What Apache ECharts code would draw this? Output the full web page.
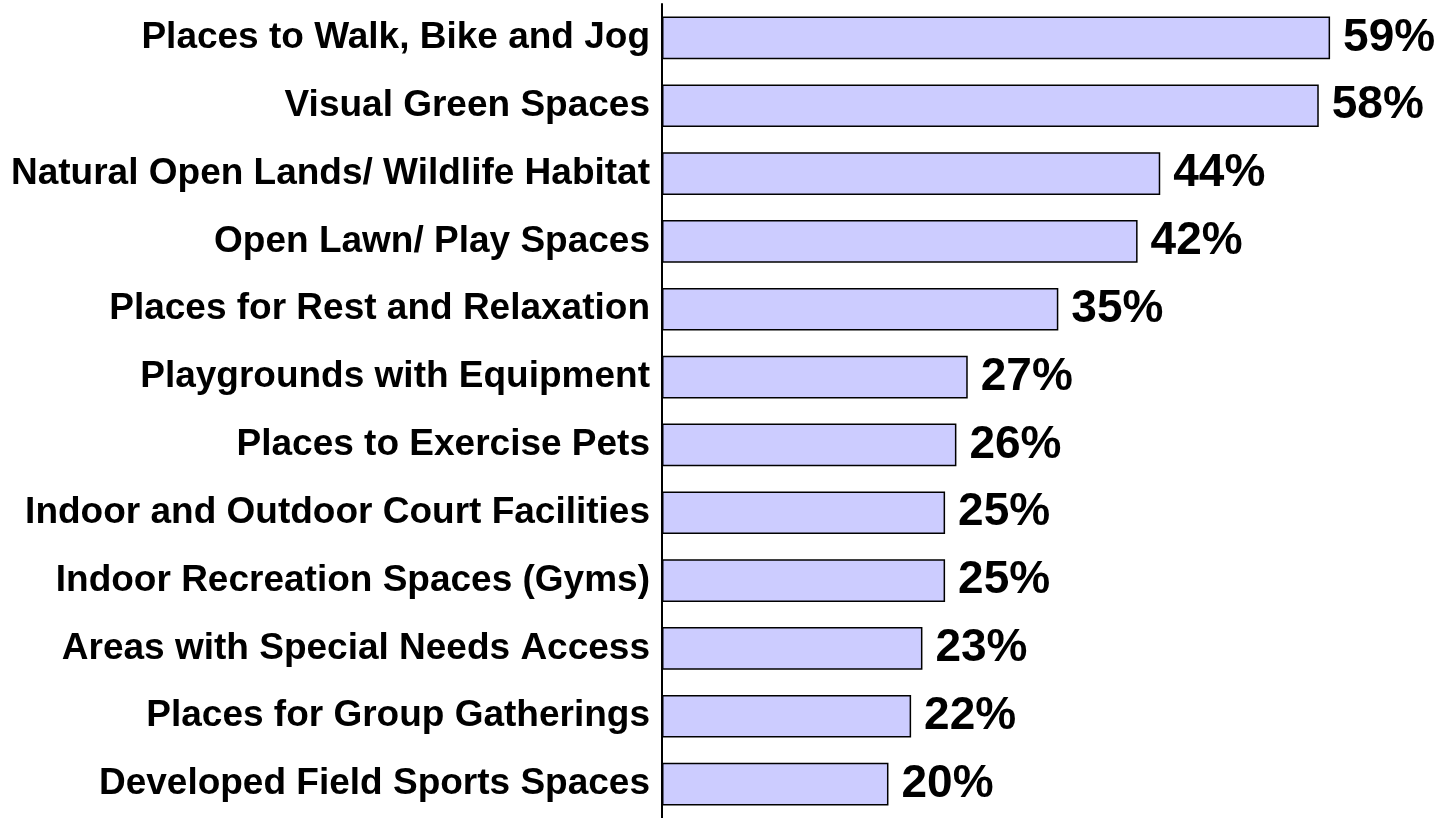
<!DOCTYPE html>
<html>
<head>
<meta charset="utf-8">
<script src="https://cdn.jsdelivr.net/npm/echarts@6/dist/echarts.min.js"></script>
<style>
  html, body { margin: 0; padding: 0; background: #fff; }
  #chart { width: 1445px; height: 818px; }
</style>
</head>
<body>
<div id="chart"></div>
<script>
// 分类与数值
const categories = [
  'Places to Walk, Bike and Jog',
  'Visual Green Spaces',
  'Natural Open Lands/ Wildlife Habitat',
  'Open Lawn/ Play Spaces',
  'Places for Rest and Relaxation',
  'Playgrounds with Equipment',
  'Places to Exercise Pets',
  'Indoor and Outdoor Court Facilities',
  'Indoor Recreation Spaces (Gyms)',
  'Areas with Special Needs Access',
  'Places for Group Gatherings',
  'Developed Field Sports Spaces'
];
const values = [59, 58, 44, 42, 35, 27, 26, 25, 25, 23, 22, 20];

let chart = echarts.init(document.getElementById('chart'));
let option = {
  animation: false,
  grid: {
    left: 662,
    top: 4,
    width: 770,
    height: 816
  },
  xAxis: {
    type: 'value',
    min: 0,
    max: 68,
    show: false
  },
  yAxis: {
    type: 'category',
    data: categories,
    inverse: true,
    // 坐标轴线
    axisLine: {
      show: true,
      lineStyle: { color: '#000', width: 2 }
    },
    axisTick: { show: false },
    splitLine: { show: false },
    axisLabel: {
      color: '#000',
      fontFamily: 'Liberation Sans, Arial, sans-serif',
      fontWeight: 'bold',
      fontSize: 37,
      margin: 12
    }
  },
  series: [
    {
      type: 'bar',
      data: values,
      barCategoryGap: '37%',
      itemStyle: {
        color: '#ccccff',
        borderColor: '#000',
        borderWidth: 1.5
      },
      label: {
        show: true,
        position: 'right',
        distance: 13,
        formatter: '{c}%',
        color: '#000',
        fontFamily: 'Liberation Sans, Arial, sans-serif',
        fontWeight: 'bold',
        fontSize: 46
      }
    }
  ]
};
chart.setOption(option);
</script>
</body>
</html>
